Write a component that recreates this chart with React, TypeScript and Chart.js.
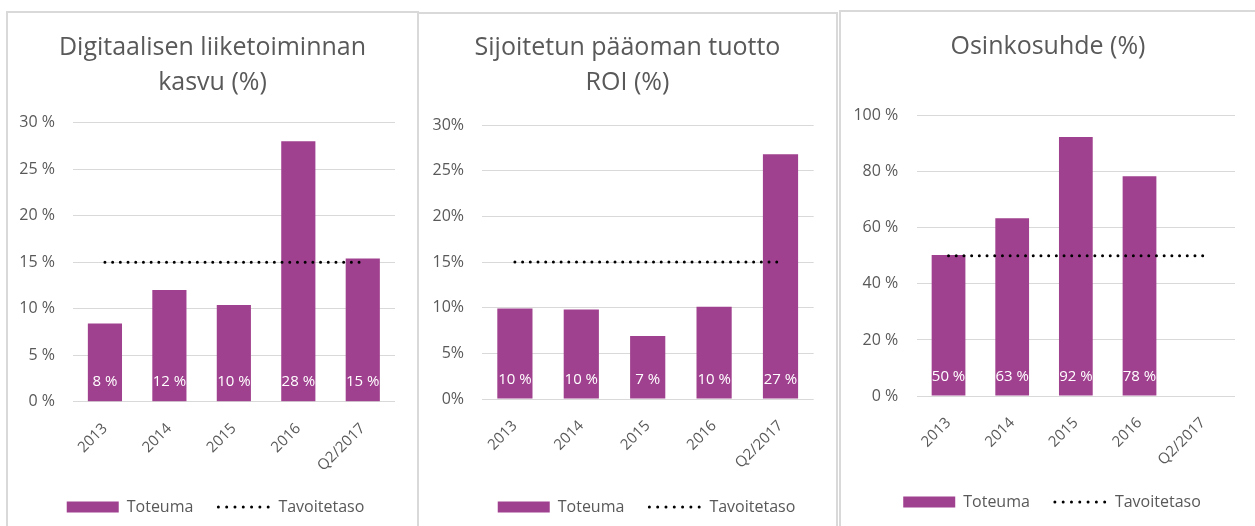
import React, { useEffect, useRef } from "react";
import { Chart, registerables } from "chart.js";

Chart.register(...registerables);

// ---------- data ----------
const categories = ["2013", "2014", "2015", "2016", "Q2/2017"];
const seriesNames = ["Toteuma", "Tavoitetaso"];

const digitalTitle = ["Digitaalisen liiketoiminnan", "kasvu (%)"];
const digitalValues = [8.4, 12.0, 10.4, 28.0, 15.4];
const digitalTarget = [15, 15, 15, 15, 15];

const roiTitle = ["Sijoitetun pääoman tuotto", "ROI (%)"];
const roiValues = [9.9, 9.8, 6.9, 10.1, 26.8];
const roiTarget = [15, 15, 15, 15, 15];

const payoutTitle = "Osinkosuhde (%)";
const payoutValues: (number | null)[] = [50.3, 63.4, 92.4, 78.4, null];
const payoutTarget = [50, 50, 50, 50, 50];

// ---------- styles ----------
const FONT = "'Open Sans', 'DejaVu Sans', sans-serif";
const TEXT = "#595959";
const GRID = "#d9d9d9";
const BAR = "#a0418f";

type PanelSpec = {
  title: string | string[];
  values: (number | null)[];
  target: number[];
  yMax: number;
  yStep: number;
  suffix: string;
  left: number;
  top: number;
  outerWidth: number;
  canvasWidth: number;
  canvasHeight: number;
  padBottom: number;
  titleTop: number;
  titleBottom: number;
  yWidth: number;
  rightWidth: number;
  yPad: number;
  xHeight: number;
  legendShift: number;
};

const panels: PanelSpec[] = [
  {
    title: digitalTitle, values: digitalValues, target: digitalTarget,
    yMax: 30, yStep: 5, suffix: " %",
    left: 6, top: 11, outerWidth: 413, canvasWidth: 409, canvasHeight: 513,
    padBottom: 1, titleTop: 17.5, titleBottom: 22.2,
    yWidth: 64.7, rightWidth: 22, yPad: 17.7, xHeight: 72.3, legendShift: 3,
  },
  {
    title: roiTitle, values: roiValues, target: roiTarget,
    yMax: 30, yStep: 5, suffix: "%",
    left: 417, top: 12, outerWidth: 421, canvasWidth: 417, canvasHeight: 512,
    padBottom: 1, titleTop: 16.5, titleBottom: 24.5,
    yWidth: 62.7, rightWidth: 22.3, yPad: 17.7, xHeight: 75, legendShift: 19,
  },
  {
    title: payoutTitle, values: payoutValues, target: payoutTarget,
    yMax: 100, yStep: 20, suffix: " %",
    left: 839, top: 10, outerWidth: 430, canvasWidth: 414, canvasHeight: 514,
    padBottom: 6, titleTop: 17.5, titleBottom: 51.2,
    yWidth: 75.7, rightWidth: 20, yPad: 18.4, xHeight: 73, legendShift: 4,
  },
];

const barLabelPlugin = {
  id: "barLabels",
  afterDatasetsDraw(chart: any) {
    const meta = chart.getDatasetMeta(0);
    const data = chart.data.datasets[0].data;
    const ctx = chart.ctx;
    ctx.save();
    ctx.font = `15px ${FONT}`;
    ctx.fillStyle = "#ffffff";
    ctx.textAlign = "center";
    ctx.textBaseline = "middle";
    meta.data.forEach((el: any, i: number) => {
      const v = data[i];
      if (v == null) return;
      const { x, base } = el.getProps(["x", "base"], true);
      ctx.fillText(`${Math.round(v)} %`, x, base - 19);
    });
    ctx.restore();
  },
};

function makeLegendShift(shift: number) {
  return {
    id: "legendShift",
    afterLayout(chart: any) {
      if (chart.legend) {
        chart.legend.left += shift;
        chart.legend.right += shift;
      }
    },
  };
}

function Panel({ spec }: { spec: PanelSpec }) {
  const ref = useRef<HTMLCanvasElement | null>(null);

  useEffect(() => {
    if (!ref.current) return;
    const chart = new Chart(ref.current, {
      type: "bar",
      data: {
        labels: categories,
        datasets: [
          {
            type: "bar",
            label: seriesNames[0],
            data: spec.values,
            backgroundColor: BAR,
            borderWidth: 0,
            categoryPercentage: 1,
            barPercentage: 0.53,
            order: 1,
            yAxisID: "y",
          } as any,
          {
            type: "line",
            label: seriesNames[1],
            data: spec.target,
            borderColor: "#000000",
            backgroundColor: "#000000",
            borderWidth: 3,
            borderDash: [0.001, 7.7],
            borderCapStyle: "round",
            pointRadius: 0,
            pointHoverRadius: 0,
            pointStyle: "line",
            fill: false,
            tension: 0,
            order: 0,
            yAxisID: "y",
          } as any,
        ],
      },
      options: {
        responsive: false,
        maintainAspectRatio: false,
        animation: false,
        devicePixelRatio: 1,
        events: [],
        layout: {
          padding: { top: 0, left: 0, right: 0, bottom: spec.padBottom },
        },
        plugins: {
          tooltip: { enabled: false },
          title: {
            display: true,
            text: spec.title,
            color: TEXT,
            font: { family: FONT, size: 25, weight: "normal", lineHeight: 1.4 },
            padding: { top: spec.titleTop, bottom: spec.titleBottom },
          },
          legend: {
            display: true,
            position: "bottom",
            labels: {
              color: TEXT,
              font: { family: FONT, size: 16 },
              usePointStyle: true,
              pointStyleWidth: 52,
              boxWidth: 52,
              boxHeight: 11,
              padding: 25,
              generateLabels: (chart: any) => {
                const items = (Chart.defaults as any).plugins.legend.labels.generateLabels(chart);
                items.forEach((it: any) => {
                  if (it.datasetIndex === 0) {
                    it.pointStyle = "rect";
                    it.lineWidth = 0;
                  } else {
                    it.pointStyle = "line";
                    it.lineDash = [0.001, 8.3];
                    it.lineCap = "round";
                    it.lineWidth = 3;
                    it.strokeStyle = "#000000";
                  }
                });
                return items.sort((a: any, b: any) => a.datasetIndex - b.datasetIndex);
              },
            },
          } as any,
        },
        scales: {
          x: {
            grid: { display: false },
            border: { display: false },
            ticks: {
              color: TEXT,
              font: { family: FONT, size: 15 },
              minRotation: 45,
              maxRotation: 45,
              autoSkip: false,
              padding: 10,
            },
            afterFit: (s: any) => {
              s.height = spec.xHeight;
            },
          },
          y: {
            min: 0,
            max: spec.yMax,
            position: "left",
            grid: { color: GRID, lineWidth: 1, drawTicks: false },
            border: { display: false },
            ticks: {
              stepSize: spec.yStep,
              color: TEXT,
              font: { family: FONT, size: 16 },
              padding: spec.yPad,
              callback: (v: any) => `${v}${spec.suffix}`,
            },
            afterFit: (s: any) => {
              s.width = spec.yWidth;
            },
          },
          yRight: {
            type: "linear",
            position: "right",
            display: true,
            grid: { display: false, drawTicks: false },
            border: { display: false },
            ticks: { display: false },
            afterFit: (s: any) => {
              s.width = spec.rightWidth;
            },
          },
        },
      } as any,
      plugins: [barLabelPlugin, makeLegendShift(spec.legendShift)],
    });
    return () => chart.destroy();
  }, [spec]);

  return (
    <div
      style={{
        position: "absolute",
        left: spec.left,
        top: spec.top,
        width: spec.outerWidth,
        height: 600,
        boxSizing: "border-box",
        border: `2px solid ${GRID}`,
        background: "#ffffff",
      }}
    >
      <canvas
        ref={ref}
        width={spec.canvasWidth}
        height={spec.canvasHeight}
        style={{
          position: "absolute",
          left: 0,
          top: 0,
          width: spec.canvasWidth,
          height: spec.canvasHeight,
          display: "block",
        }}
      />
    </div>
  );
}

export default function App() {
  return (
    <div
      style={{
        position: "absolute",
        left: 0,
        top: 0,
        width: 1255,
        height: 526,
        overflow: "hidden",
        background: "#ffffff",
      }}
    >
      {panels.map((p, i) => (
        <Panel key={i} spec={p} />
      ))}
    </div>
  );
}
